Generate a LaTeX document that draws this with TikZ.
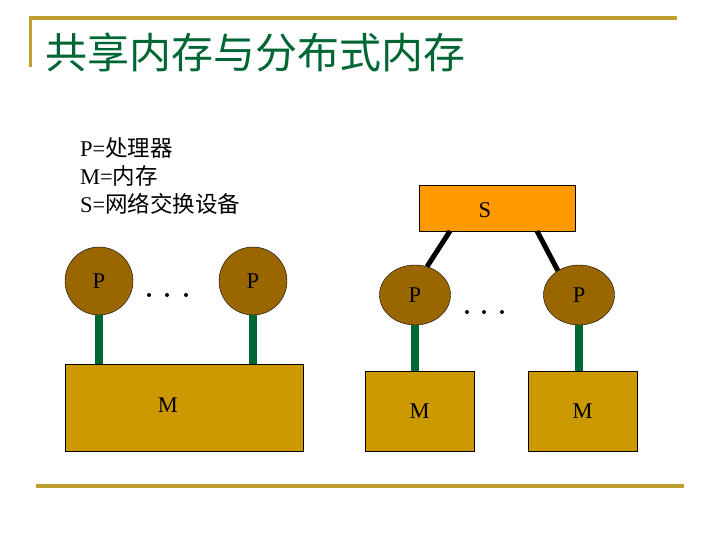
\documentclass[tikz,border=0pt]{standalone}
\usepackage{fontspec}
\setmainfont{Liberation Serif}
\newfontfamily\cjk{Noto Sans CJK SC}
\usepackage{tikz}
\usetikzlibrary{positioning,shapes.geometric}
\definecolor{gold}{RGB}{190,158,45}
\definecolor{leaf}{RGB}{0,102,51}
\definecolor{bark}{RGB}{153,102,0}
\definecolor{ochre}{RGB}{204,153,0}
\definecolor{amber}{RGB}{255,153,0}
\tikzset{
  proc/.style={draw,fill=bark,circle,minimum size=68pt,inner sep=0pt},
  procell/.style={draw,fill=bark,ellipse,minimum width=71pt,minimum height=60pt,inner sep=0pt},
  mem/.style={draw,fill=ochre,inner sep=0pt},
  stem/.style={leaf,line width=8pt},
  bus/.style={black,line width=5pt},
  lbl/.style={font=\fontsize{22.5}{26}\selectfont}
}
\begin{document}
\begin{tikzpicture}[x=1pt,y=-1pt]
  \useasboundingbox (0,0) rectangle (720,540);
  % frame of the slide
  \draw[gold,line width=3.5pt] (29,18) -- (677,18);
  \draw[gold,line width=3.5pt] (30.5,18) -- (30.5,67);
  \draw[gold,line width=3.5pt] (36,486) -- (684,486);
  \node[anchor=base west,leaf,inner sep=0pt,font=\fontsize{42}{46}\selectfont\cjk] (title) at (45,69) {共享内存与分布式内存};
  % legend
  \node[lbl,anchor=base west,inner sep=0pt] (keyp) at (80,157) {P={\cjk 处理器}};
  \node[lbl,anchor=base west,inner sep=0pt] (keym) at (80,184.5) {M={\cjk 内存}};
  \node[lbl,anchor=base west,inner sep=0pt] (keys) at (80,212) {S={\cjk 网络交换设备}};
  % shared memory
  \node[mem,minimum width=238pt,minimum height=87pt] (m0) at (184,407.5) {};
  \node[lbl] (m0lab) at (168,405) {M};
  \node[proc,lbl] (p1) at (99,281) {P};
  \node[proc,lbl] (p2) at (253,281) {P};
  \draw[stem] (p1.south) -- (p1.south |- m0.north);
  \draw[stem] (p2.south) -- (p2.south |- m0.north);
  \foreach \x in {149,167,186} {
    \fill (\x,295) circle (2pt);}
  % distributed memory
  \node[fill=amber,draw,minimum width=156pt,minimum height=46pt] (s) at (497,208) {};
  \node[lbl] (slab) at (485,210) {S};
  \node[procell,lbl] (q1) at (415,295) {P};
  \node[procell,lbl] (q2) at (579,295) {P};
  \node[mem,lbl,minimum width=109pt,minimum height=80pt] (m1) at (419.5,411) {M};
  \node[mem,lbl,minimum width=109pt,minimum height=80pt] (m2) at (582.5,411) {M};
  \draw[stem] (q1.south) -- (q1.south |- m1.north);
  \draw[stem] (q2.south) -- (q2.south |- m2.north);
  \coordinate (sl) at (450,231);
  \coordinate (sr) at (537,231);
  \draw[bus] (sl) -- (q1.67);
  \draw[bus] (sr) -- (q2.131);
  \foreach \x in {467,484,502} {
    \fill (\x,312) circle (2pt);}
\end{tikzpicture}
\end{document}
